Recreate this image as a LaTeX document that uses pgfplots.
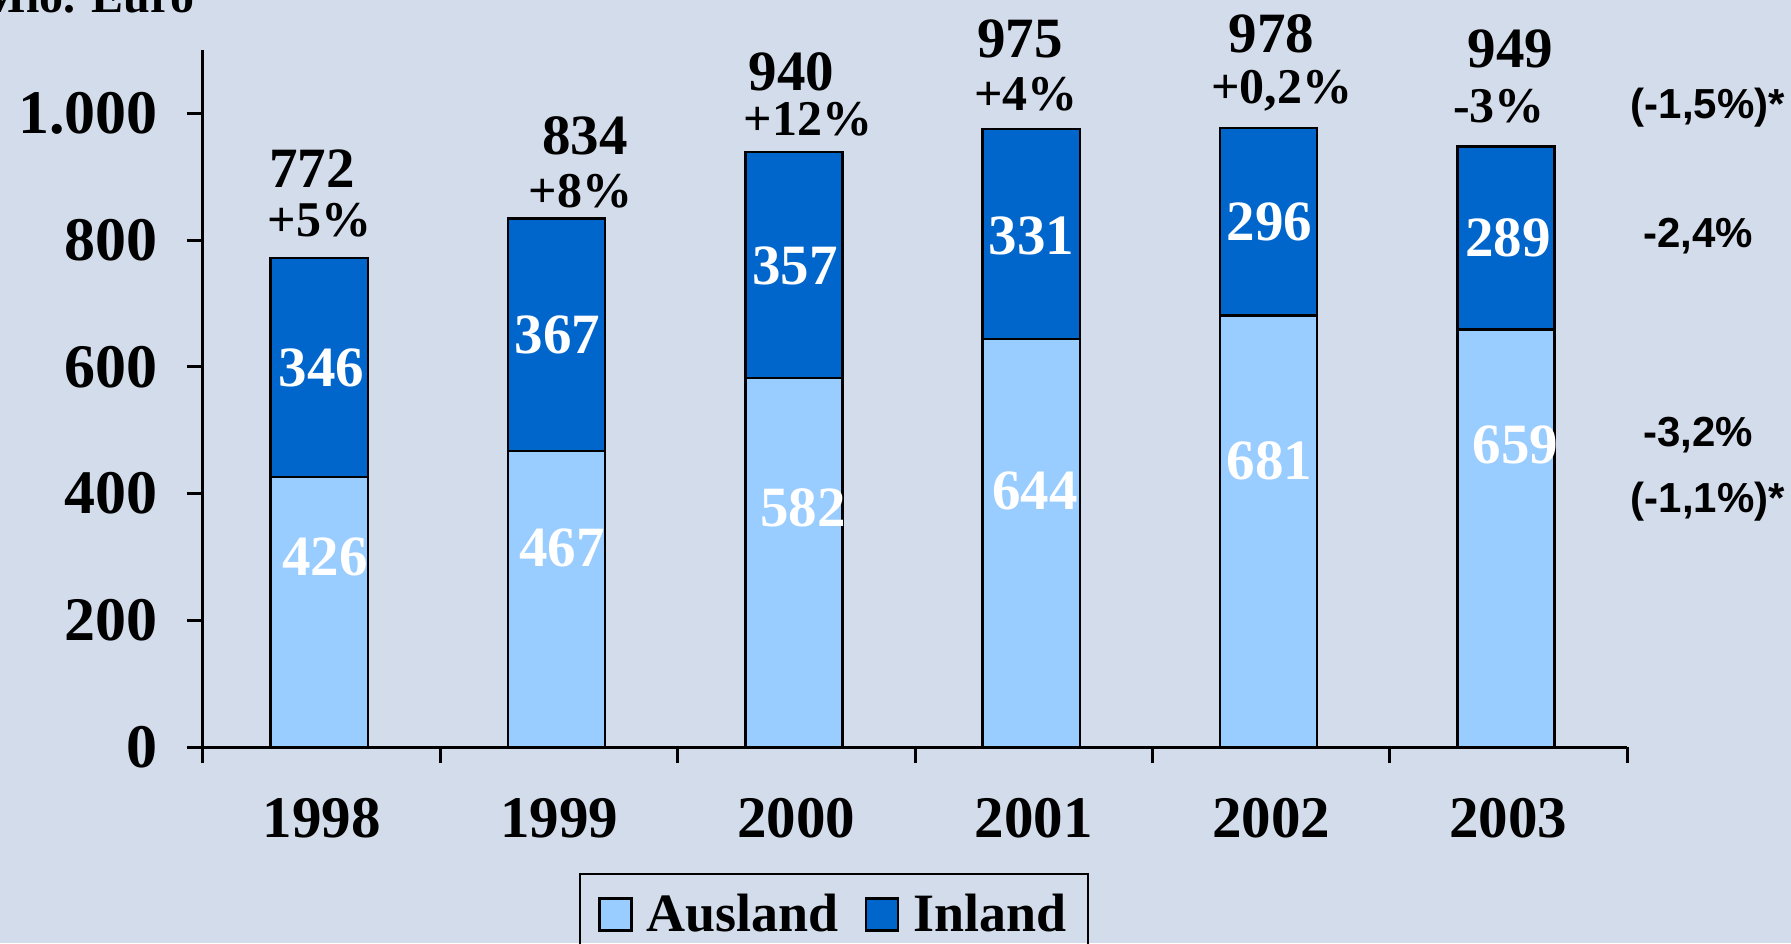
\documentclass[border=0pt]{standalone}
\usepackage{fontspec}
\setmainfont{Liberation Serif}
\newfontfamily\arial{Liberation Sans}
\usepackage{pgfplots}
\pgfplotsset{compat=1.18}
\definecolor{bg}{RGB}{211,220,234}
\definecolor{ausland}{RGB}{153,204,255}
\definecolor{inland}{RGB}{0,102,204}
\newcommand{\fs}[1]{\fontsize{#1}{#1}\selectfont\bfseries}
\tikzset{lab/.style={inner sep=1pt}}
\begin{document}
\begin{tikzpicture}
\useasboundingbox (-101.5pt,-98pt) rectangle (794pt,373.5pt);
\clip (-101.5pt,-98pt) rectangle (794pt,373.5pt);
\fill[bg] (-101.5pt,-98pt) rectangle (794pt,373.5pt);
\begin{axis}[
  scale only axis, width=712pt, height=348.5pt,
  at={(0,0)}, anchor=south west,
  ybar stacked, bar width=0.41, bar shift=-0.01,
  xmin=-0.5, xmax=5.5, ymin=0, ymax=1100,
  axis lines*=left,
  axis line style={line width=1.5pt, black},
  tick align=outside, major tick length=8pt,
  tick style={line width=1.5pt, black},
  xtick={-0.5,0.5,...,5.5}, x tick label as interval,
  xticklabels={1998,1999,2000,2001,2002,2003},
  ytick={0,200,...,1000}, yticklabels={0,200,400,600,800,1.000},
  yticklabel style={font=\fs{31}, xshift=-11pt},
  xticklabel style={font=\fs{29.5}, yshift=-14pt},
  clip=false,
  legend columns=2,
  legend style={at={(0.4432,-0.1808)}, anchor=north, draw=black, line width=1.2pt,
    fill=none, font=\fs{27}, inner xsep=9pt, inner ysep=8pt,
    /tikz/every even column/.append style={column sep=11pt}},
]
\addplot[fill=ausland, draw=black, line width=1.2pt,
  legend image code/.code={\draw[fill=ausland,draw=black,line width=1.2pt] (0pt,-8pt) rectangle (16pt,8pt); \path (21pt,0pt);}]
  coordinates {(0,426) (1,467) (2,582) (3,644) (4,681) (5,659)};
\addlegendentry{Ausland}
\addplot[fill=inland, draw=black, line width=1.2pt,
  legend image code/.code={\draw[fill=inland,draw=black,line width=1.2pt] (0pt,-8pt) rectangle (16pt,8pt); \path (21pt,0pt);}]
  coordinates {(0,346) (1,367) (2,357) (3,331) (4,296) (5,289)};
\addlegendentry{Inland}

% totals
\node[lab, font=\fs{28.5}] at (axis cs:-0.04,912) {772};
\node[lab, font=\fs{28.5}] at (axis cs:1.11,965) {834};
\node[lab, font=\fs{28.5}] at (axis cs:1.98,1066) {940};
\node[lab, font=\fs{28.5}] at (axis cs:2.943,1118) {975};
\node[lab, font=\fs{28.5}] at (axis cs:4.003,1126) {978};
\node[lab, font=\fs{28.5}] at (axis cs:5.009,1102) {949};
% growth
\node[lab, font=\fs{25}] at (axis cs:-0.01,831) {+5\%};
\node[lab, font=\fs{25}] at (axis cs:1.09,877) {+8\%};
\node[lab, font=\fs{25}] at (axis cs:2.05,990) {+12\%};
\node[lab, font=\fs{25}] at (axis cs:2.967,1030) {+4\%};
\node[lab, font=\fs{25}] at (axis cs:4.046,1036) {+0,2\%};
\node[lab, font=\fs{25}] at (axis cs:4.961,1011) {-3\%};
% anchors for inner labels
\coordinate (i1) at (axis cs:0.0,598);
\coordinate (a1) at (axis cs:0.015,300);
\coordinate (i2) at (axis cs:0.993,650);
\coordinate (a2) at (axis cs:1.012,314);
\coordinate (i3) at (axis cs:1.994,759);
\coordinate (a3) at (axis cs:2.028,378);
\coordinate (i4) at (axis cs:2.99,807);
\coordinate (a4) at (axis cs:3.005,404);
\coordinate (i5) at (axis cs:3.993,828);
\coordinate (a5) at (axis cs:3.993,452);
\coordinate (i6) at (axis cs:4.999,803);
\coordinate (a6) at (axis cs:5.03,476);
% right annotations
\node[lab, font={\arial\fontsize{21}{21}\selectfont\bfseries}] at (axis cs:5.84,1009) {(-1,5\%)*};
\node[lab, font={\arial\fontsize{21}{21}\selectfont\bfseries}] at (axis cs:5.80,806) {-2,4\%};
\node[lab, font={\arial\fontsize{21}{21}\selectfont\bfseries}] at (axis cs:5.80,493) {-3,2\%};
\node[lab, font={\arial\fontsize{21}{21}\selectfont\bfseries}] at (axis cs:5.84,387) {(-1,1\%)*};
% axis title
\node[font=\fs{24}, anchor=base east, inner sep=0pt] at (axis description cs:-0.0056,1.0545) {Mio. Euro};
\end{axis}
\foreach \p/\t in {i1/346,a1/426,i2/367,a2/467,i3/357,a3/582,i4/331,a4/644,i5/296,a5/681,i6/289,a6/659}
  \node[lab, font=\fs{28.5}, text=white] at (\p) {\t};
\end{tikzpicture}
\end{document}
